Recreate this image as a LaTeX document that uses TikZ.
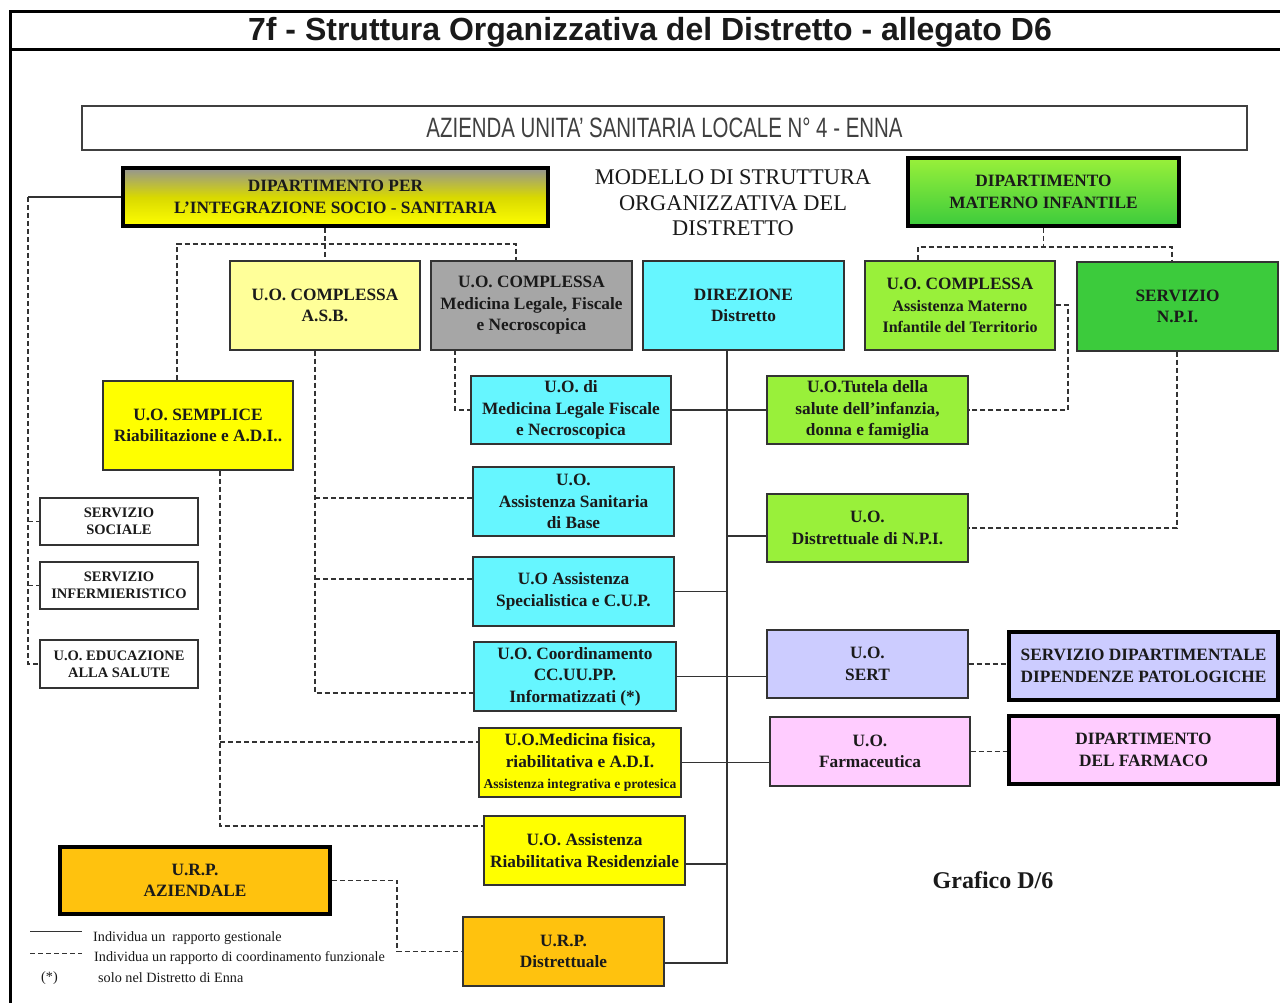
\documentclass[tikz,border=0pt]{standalone}
\usepackage{fontspec}
\setmainfont{Liberation Serif}
\newfontfamily\arialf{Liberation Sans}
\definecolor{cyanb}{HTML}{66F6FF}
\definecolor{limeb}{HTML}{99F03A}
\definecolor{greenb}{HTML}{3CCB3C}
\definecolor{yelb}{HTML}{FFFF00}
\definecolor{lyelb}{HTML}{FFFF99}
\definecolor{grayb}{HTML}{A6A6A6}
\definecolor{lavb}{HTML}{CCCCFF}
\definecolor{pinkb}{HTML}{FFCCFF}
\definecolor{orb}{HTML}{FFC20E}
\definecolor{ink}{HTML}{1A1A1A}
\tikzset{
  box/.style={draw=black!80, line width=1.2pt, align=center, inner sep=0pt, text=ink,
              font=\bfseries\fontsize{17.3}{21.5}\selectfont},
  thickbox/.style={box, draw=black, line width=3.6pt},
  smallbox/.style={box, font=\bfseries\fontsize{14.5}{17}\selectfont},
  gl/.style={draw=black!80, line width=1.4pt},
  dl/.style={gl, dash pattern=on 5pt off 3pt},
  legtext/.style={anchor=west, inner sep=0pt, text=ink, font=\fontsize{14.2}{16}\selectfont}
}
\newcommand\orgbox[7]{%
  \node[#6, minimum width={#4pt-#2pt}, minimum height={#5pt-#3pt}]
    (#1) at ({(#2+#4)/2},{(#3+#5)/2}) {#7};}
\begin{document}
\begin{tikzpicture}[x=1pt,y=-1pt]
\useasboundingbox (0,0) rectangle (1280,1003);
\fill[white] (0,0) rectangle (1280,1003);
% frame
\draw[line width=3pt] (1280,12) -- (10,12) -- (10,1003);
\draw[line width=3pt] (10,50) -- (1280,50);
\node[inner sep=0pt, font=\arialf\bfseries\fontsize{32}{32}\selectfont, text=ink] (title) at (650,32)
  {7f - Struttura Organizzativa del Distretto - allegato D6};
% azienda
\node[draw=black!75, line width=1.2pt, minimum width=1165pt, minimum height=44pt, inner sep=0pt,
      text=black!75, font=\arialf\fontsize{28}{28}\selectfont] (asl) at (664.5,128)
  {\scalebox{0.73}[1]{AZIENDA UNITA’ SANITARIA LOCALE N° 4 - ENNA}};
% modello text
\node[align=center, inner sep=0pt, text=ink, font=\fontsize{22.4}{25.5}\selectfont] (mod) at (733,203)
  {MODELLO DI STRUTTURA\\ORGANIZZATIVA DEL\\DISTRETTO};
% boxes
\orgbox{dipi}{123}{168}{548}{226}{thickbox, top color=black!42, bottom color=yelb, middle color=yelb!85!black}{DIPARTIMENTO PER\\L’INTEGRAZIONE SOCIO - SANITARIA}
\orgbox{dipm}{908}{158}{1179}{226}{thickbox, top color=limeb, bottom color=greenb}{DIPARTIMENTO\\MATERNO INFANTILE}
\orgbox{asb}{230}{261}{420}{350}{box, fill=lyelb}{U.O. COMPLESSA\\A.S.B.}
\orgbox{cml}{431}{261}{632}{350}{box, fill=grayb}{U.O. COMPLESSA\\Medicina Legale, Fiscale\\e Necroscopica}
\orgbox{dir}{643}{261}{844}{350}{box, fill=cyanb}{DIREZIONE\\Distretto}
\orgbox{cami}{865}{261}{1055}{350}{box, fill=limeb}{U.O. COMPLESSA\\{\fontsize{16}{21.5}\selectfont Assistenza Materno}\\{\fontsize{16}{21.5}\selectfont Infantile del Territorio}}
\orgbox{snpi}{1077}{262}{1278}{351}{box, fill=greenb}{SERVIZIO\\N.P.I.}
\orgbox{sem}{103}{381}{293}{470}{box, fill=yelb}{U.O. SEMPLICE\\Riabilitazione e A.D.I..}
\orgbox{mlf}{471}{376}{671}{444}{box, fill=cyanb}{U.O. di\\Medicina Legale Fiscale\\e Necroscopica}
\orgbox{tut}{767}{376}{968}{444}{box, fill=limeb}{U.O.Tutela della\\salute dell’infanzia,\\donna e famiglia}
\orgbox{ssoc}{40}{498}{198}{545}{smallbox, fill=white}{SERVIZIO\\SOCIALE}
\orgbox{sinf}{40}{562}{198}{609}{smallbox, fill=white}{SERVIZIO\\INFERMIERISTICO}
\orgbox{edu}{40}{640}{198}{688}{smallbox, fill=white}{U.O. EDUCAZIONE\\ALLA SALUTE}
\orgbox{asb2}{473}{467}{674}{536}{box, fill=cyanb}{U.O.\\Assistenza Sanitaria\\di Base}
\orgbox{npid}{767}{494}{968}{562}{box, fill=limeb}{U.O.\\Distrettuale di N.P.I.}
\orgbox{spec}{473}{557}{674}{626}{box, fill=cyanb}{U.O Assistenza\\Specialistica e C.U.P.}
\orgbox{coord}{474}{642}{676}{711}{box, fill=cyanb}{U.O. Coordinamento\\CC.UU.PP.\\Informatizzati (*)}
\orgbox{sert}{767}{630}{968}{698}{box, fill=lavb}{U.O.\\SERT}
\orgbox{sdp}{1009}{632}{1278}{700}{thickbox, fill=lavb}{SERVIZIO DIPARTIMENTALE\\DIPENDENZE PATOLOGICHE}
\orgbox{mfis}{479}{728}{681}{797}{box, fill=yelb}{U.O.Medicina fisica,\\riabilitativa e A.D.I.\\{\fontsize{13.6}{15}\selectfont Assistenza integrativa e protesica}}
\orgbox{farm}{770}{717}{970}{786}{box, fill=pinkb}{U.O.\\Farmaceutica}
\orgbox{dfar}{1009}{716}{1278}{784}{thickbox, fill=pinkb}{DIPARTIMENTO\\DEL FARMACO}
\orgbox{arr}{484}{816}{685}{885}{box, fill=yelb}{U.O. Assistenza\\Riabilitativa Residenziale}
\orgbox{urpa}{60}{847}{330}{914}{thickbox, fill=orb}{U.R.P.\\AZIENDALE}
\orgbox{urpd}{463}{917}{664}{986}{box, fill=orb}{U.R.P.\\Distrettuale}
\node[inner sep=0pt, text=ink, font=\bfseries\fontsize{24}{24}\selectfont] (graf) at (993,880) {Grafico D/6};
% solid connectors (district)
\coordinate (vbot) at (727,963);
\draw[gl] (dir.south -| vbot) -- (vbot) -- (urpd.east |- vbot);
\draw[gl] (mlf.east) -- (tut.west);
\coordinate (jn) at (727,536);
\draw[gl] (jn) -- (npid.west |- jn);
\draw[gl] (spec.east) -- (spec.east -| vbot);
\draw[gl] (coord.east) -- (coord.east -| sert.west);
\draw[gl] (mfis.east) -- (mfis.east -| farm.west);
\coordinate (jr) at (727,864);
\draw[gl] (arr.east |- jr) -- (jr);
% integrazione socio-sanitaria
\coordinate (lx) at (28,197);
\draw[gl] (dipi.west) -- (dipi.west -| lx);
\draw[dl] (dipi.west -| lx) -- (edu.west -| lx) -- (edu.west);
\draw[dl] (ssoc.west -| lx) -- (ssoc.west);
\draw[dl] (sinf.west -| lx) -- (sinf.west);
\coordinate (ja) at (177,244);
\coordinate (jb) at (516,244);
\draw[dl] (dipi.south -| asb.north) -- (asb.north);
\draw[dl] (sem.north -| ja) -- (ja) -- (jb) -- (cml.north -| jb);
\coordinate (jc) at (455,350);
\draw[dl] (jc) -- (jc |- mlf.west) -- (mlf.west);
\coordinate (jd1) at (315,693);
\coordinate (jd2) at (315,498);
\coordinate (jd3) at (315,579);
\draw[dl] (asb.south -| jd1) -- (jd1) -- (jd1 -| coord.west);
\draw[dl] (jd2) -- (jd2 -| asb2.west);
\draw[dl] (jd3) -- (jd3 -| spec.west);
\coordinate (je1) at (220,826);
\coordinate (je2) at (220,742);
\draw[dl] (sem.south -| je1) -- (je1) -- (je1 -| arr.west);
\draw[dl] (je2) -- (je2 -| mfis.west);
% materno infantile
\coordinate (jf1) at (918,247);
\coordinate (jf2) at (1172,247);
\draw[dl] (dipm.south) -- (dipm.south |- jf1);
\draw[dl] (cami.north -| jf1) -- (jf1) -- (jf2) -- (snpi.north -| jf2);
\coordinate (jg) at (1068,305);
\draw[dl] (cami.east |- jg) -- (jg) -- (jg |- tut.east) -- (tut.east);
\coordinate (jh) at (1177,528);
\draw[dl] (snpi.south -| jh) -- (jh) -- (npid.east);
% other departments
\draw[dl] (sert.east) -- (sert.east -| sdp.west);
\draw[dl] (farm.east) -- (farm.east -| dfar.west);
\coordinate (ji) at (397,881);
\draw[dl] (urpa.east) -- (urpa.east -| ji) -- (ji |- urpd.west) -- (urpd.west);
% legend
\coordinate (l1a) at (30,931); \coordinate (l1b) at (82,931);
\coordinate (l2a) at (30,953); \coordinate (l2b) at (82,953);
\draw[gl, line width=1pt] (l1a) -- (l1b);
\draw[dl, line width=1pt] (l2a) -- (l2b);
\node[legtext] (lt1) at (93,938) {Individua un\ \ rapporto gestionale};
\node[legtext] (lt2) at (94,958) {Individua un rapporto di coordinamento funzionale};
\node[legtext] (lt3) at (41,978) {(*)};
\node[legtext] (lt4) at (98,978) {solo nel Distretto di Enna};
\end{tikzpicture}
\end{document}
